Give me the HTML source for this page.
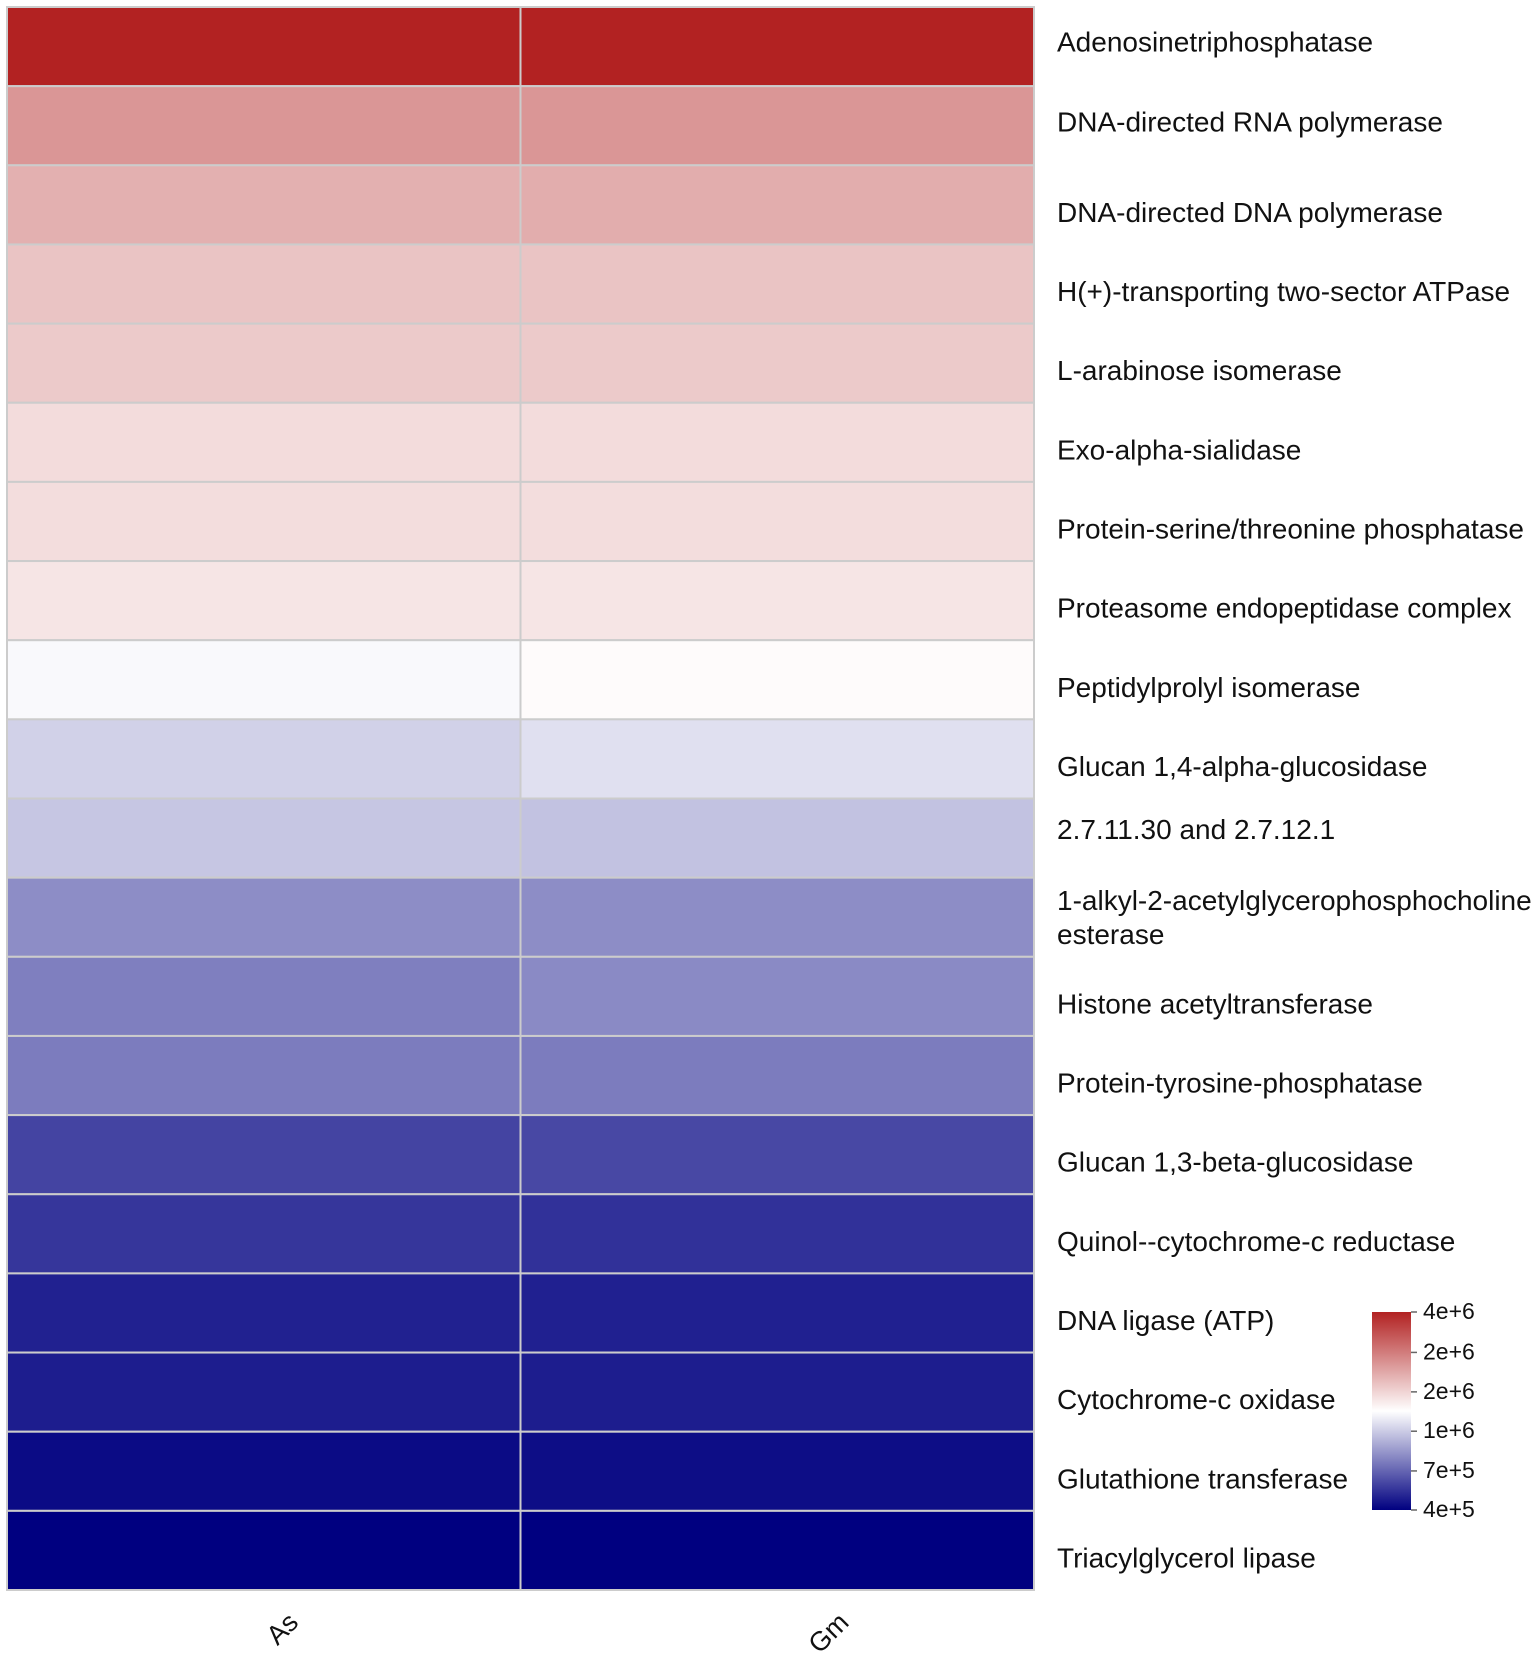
<!DOCTYPE html>
<html><head><meta charset="utf-8"><style>
body{margin:0;background:#fff;}
svg{display:block;font-family:"Liberation Sans",Arial,sans-serif;}
</style></head><body>
<svg id="chart" width="1535" height="1657" viewBox="0 0 1535 1657" xmlns="http://www.w3.org/2000/svg">
<defs><linearGradient id="cbar" x1="0" y1="1" x2="0" y2="0">
<stop offset="0" stop-color="#000080"/><stop offset="0.5" stop-color="#ffffff"/><stop offset="1" stop-color="#b22222"/></linearGradient></defs>
<g id="cells"></g>
<g id="rowlabels"></g>
<g id="collabels"></g>
<g id="legend"></g>
</svg>
<script>
const columns = ["As","Gm"];
const enzymes = ["Adenosinetriphosphatase","DNA-directed RNA polymerase","DNA-directed DNA polymerase","H(+)-transporting two-sector ATPase","L-arabinose isomerase","Exo-alpha-sialidase","Protein-serine/threonine phosphatase","Proteasome endopeptidase complex","Peptidylprolyl isomerase","Glucan 1,4-alpha-glucosidase","2.7.11.30 and 2.7.12.1","1-alkyl-2-acetylglycerophosphocholine|esterase","Histone acetyltransferase","Protein-tyrosine-phosphatase","Glucan 1,3-beta-glucosidase","Quinol--cytochrome-c reductase","DNA ligase (ATP)","Cytochrome-c oxidase","Glutathione transferase","Triacylglycerol lipase"];
const valuesAs = [4.0e6,2.19e6,1.91e6,1.72e6,1.67e6,1.52e6,1.51e6,1.45e6,1.23e6,1.03e6,9.8e5,7.55e5,7.1e5,7.0e5,5.44e5,5.1e5,4.64e5,4.55e5,4.2e5,4.0e5];
const valuesGm = [4.0e6,2.19e6,1.94e6,1.72e6,1.67e6,1.52e6,1.51e6,1.45e6,1.29e6,1.10e6,9.6e5,7.55e5,7.45e5,7.0e5,5.54e5,5.0e5,4.62e5,4.55e5,4.24e5,4.0e5];
const legendTicks = [4e5,6.3e5,1e6,1.58e6,2.5e6,4e6];
const legendTickLabels = ["4e+5","7e+5","1e+6","2e+6","2e+6","4e+6"];

const NS="http://www.w3.org/2000/svg";
const X0=7,X1=1034,Y0=7,Y1=1590;
const labelNudge=[0,1,12,12,12,12,12,12,12,12,-4,5,12,12,12,12,12,12,12,12];
const lmin=Math.log10(4e5),lmax=Math.log10(4e6);
function tScale(v){return Math.max(0,Math.min(1,(Math.log10(v)-lmin)/(lmax-lmin)));}
function lerp(a,b,s){return a.map((x,i)=>Math.round(x+(b[i]-x)*s));}
function color(v){const t=tScale(v);let c;
 if(t<0.5)c=lerp([0,0,128],[255,255,255],t/0.5);else c=lerp([255,255,255],[178,34,34],(t-0.5)/0.5);
 return `rgb(${c[0]},${c[1]},${c[2]})`;}
const colW=(X1-X0)/columns.length, rowH=(Y1-Y0)/enzymes.length;
function xPos(i){return X0+i*colW;} function yPos(j){return Y0+j*rowH;}
function mk(tag,attrs,parent){const e=document.createElementNS(NS,tag);for(const k in attrs)e.setAttribute(k,attrs[k]);parent.appendChild(e);return e;}
const cells=document.getElementById('cells');
const series=[valuesAs,valuesGm];
series.forEach((vals,i)=>vals.forEach((v,j)=>{
 const r=mk('rect',{x:xPos(i),y:yPos(j),width:colW,height:rowH,fill:color(v),stroke:'#cccccc','stroke-width':2},cells);
 
 
}));
const rl=document.getElementById('rowlabels');
enzymes.forEach((name,j)=>{
 const parts=name.split('|');const cy=yPos(j)+rowH/2+labelNudge[j];
 parts.forEach((p,k)=>{
  const t=mk('text',{x:1057,y:cy+5+(k-(parts.length-1)/2)*34,'font-size':28,fill:'#111'},rl);
  t.textContent=p;
  
  
 });
});
const cl=document.getElementById('collabels');
const colLabelShift=[36,73];
columns.forEach((c,i)=>{
 const cx=xPos(i)+colW/2+colLabelShift[i], cy=1624;
 const t=mk('text',{x:cx,y:cy,'font-size':27,'text-anchor':'end',transform:`rotate(-45 ${cx} ${cy})`,fill:'#111'},cl);
 t.textContent=c;
 
 
});
const lg=document.getElementById('legend');
const LB0=1510,LB1=1312;
const bar=mk('rect',{x:1372,y:LB1,width:39,height:LB0-LB1,fill:'url(#cbar)'},lg);


legendTicks.forEach((v,k)=>{
 const y=LB0-tScale(v)*(LB0-LB1);
 const ln=mk('line',{x1:1411,x2:1417,y1:y,y2:y,stroke:'#666','stroke-width':1.5},lg);
 
 
 const t=mk('text',{x:1423,y:y+7,'font-size':23,fill:'#111'},lg);
 t.textContent=legendTickLabels[k];
 
 
});
</script>
</body></html>
